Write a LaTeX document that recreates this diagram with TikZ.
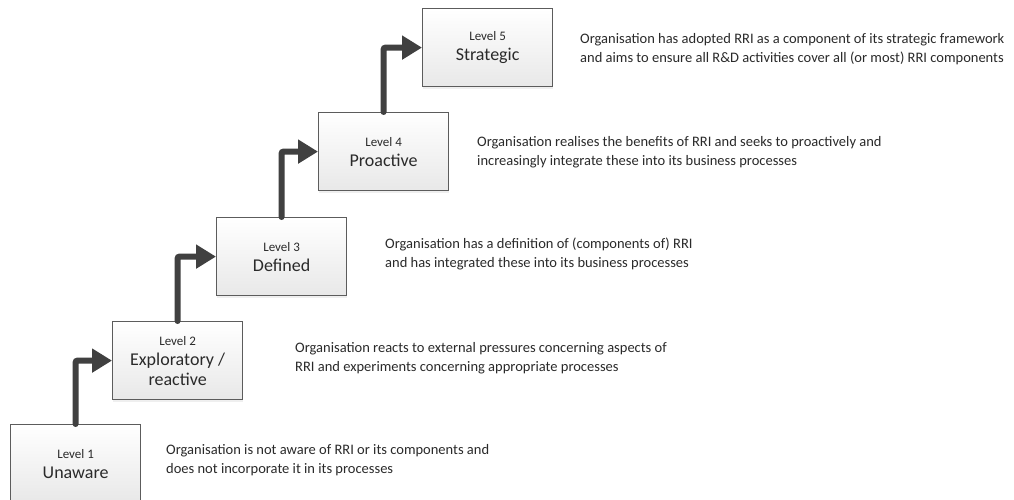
\documentclass[tikz,border=0pt]{standalone}
\usepackage{fontspec}
\setmainfont{Carlito}
\usetikzlibrary{arrows.meta,shadows}
\definecolor{boxline}{HTML}{5C5C5C}
\definecolor{stepline}{HTML}{404040}
\definecolor{ink}{HTML}{2A2A2A}
\tikzset{
  levelbox/.style={draw=boxline, line width=1.2pt, top color=white, bottom color=black!9,
    minimum width=130pt, minimum height=78pt, inner sep=0pt, anchor=north west,
    align=center, text=ink, font=\fontsize{18}{20}\selectfont,
    drop shadow={opacity=0.12, shadow xshift=0pt, shadow yshift=-2pt}},
  desc/.style={anchor=west, align=left, text=ink, inner sep=0pt,
    font=\fontsize{14.5}{18.5}\selectfont},
  climb/.style={draw=stepline, line width=6pt, line cap=round, rounded corners=2pt,
    -{Triangle[length=20pt,width=23pt]}},
}
\newcommand{\lvl}[1]{{\fontsize{13}{20}\selectfont Level #1}}
\begin{document}
\begin{tikzpicture}[x=1pt,y=-1pt]
\clip (0,0) rectangle (1014,500);
\fill[white] (0,0) rectangle (1014,500);

% the five maturity levels
\node[levelbox] (l1) at (10,424)  {\lvl{1}\\Unaware};
\node[levelbox] (l2) at (112,321) {\lvl{2}\\Exploratory /\\reactive};
\node[levelbox] (l3) at (216,217) {\lvl{3}\\Defined};
\node[levelbox] (l4) at (318,112) {\lvl{4}\\Proactive};
\node[levelbox] (l5) at (422,8)   {\lvl{5}\\Strategic};

% stair-step arrows between the levels
\draw[climb] (l1.north) |- (l2.west);
\draw[climb] (l2.north) |- (l3.west);
\draw[climb] (l3.north) |- (l4.west);
\draw[climb] (l4.north) |- (l5.west);

% descriptions
\node[desc] (d1) at (166,460) {Organisation is not aware of RRI or its components and\\does not incorporate it in its processes};
\node[desc] (d2) at (295,358) {Organisation reacts to external pressures concerning aspects of\\RRI and experiments concerning appropriate processes};
\node[desc] (d3) at (385,254) {Organisation has a definition of (components of) RRI\\and has integrated these into its business processes};
\node[desc] (d4) at (477,152) {Organisation realises the benefits of RRI and seeks to proactively and\\increasingly integrate these into its business processes};
\node[desc] (d5) at (580,49)  {Organisation has adopted RRI as a component of its strategic framework\\and aims to ensure all R\&D activities cover all (or most) RRI components};
\end{tikzpicture}
\end{document}
